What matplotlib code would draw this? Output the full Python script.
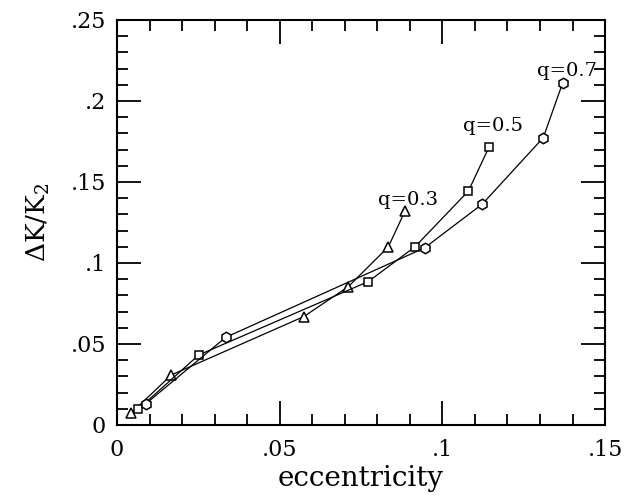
import matplotlib
matplotlib.use("Agg")
import matplotlib.pyplot as plt
from matplotlib.ticker import MultipleLocator, FixedLocator

# Data
e_q03 = [0.0044, 0.0167, 0.0574, 0.0711, 0.0834, 0.0885]
dk_q03 = [0.0074, 0.0309, 0.0669, 0.0854, 0.1100, 0.1320]

e_q05 = [0.0065, 0.0251, 0.0772, 0.0916, 0.1080, 0.1143]
dk_q05 = [0.0097, 0.0432, 0.0885, 0.1100, 0.1444, 0.1714]

e_q07 = [0.0088, 0.0334, 0.0946, 0.1123, 0.1310, 0.1370]
dk_q07 = [0.0130, 0.0541, 0.1094, 0.1364, 0.1773, 0.2113]

series_labels = ["q=0.3", "q=0.5", "q=0.7"]
x_ticks = [0, 0.05, 0.1, 0.15]
x_ticklabels = ["0", ".05", ".1", ".15"]
y_ticks = [0, 0.05, 0.1, 0.15, 0.2, 0.25]
y_ticklabels = ["0", ".05", ".1", ".15", ".2", ".25"]

plt.rcParams['font.family'] = ['DejaVu Serif']
plt.rcParams['mathtext.fontset'] = 'dejavuserif'

fig = plt.figure(figsize=(6.43, 4.98), dpi=100)
ax = fig.add_axes([0.182, 0.1466, 0.759, 0.8134])

mk = dict(color='black', linewidth=0.9, markerfacecolor='white',
          markeredgecolor='black', markeredgewidth=1.1)
ax.plot(e_q03, dk_q03, marker='^', markersize=6.5, **mk)
ax.plot(e_q05, dk_q05, marker='s', markersize=6, **mk)
ax.plot(e_q07, dk_q07, marker='h', markersize=7.5, **mk)

ax.text(e_q03[-1] + 0.0009, dk_q03[-1] + 0.0069, series_labels[0],
        ha='center', va='center', fontsize=14)
ax.text(e_q05[-1] + 0.0013, dk_q05[-1] + 0.0132, series_labels[1],
        ha='center', va='center', fontsize=14)
ax.text(e_q07[-1] + 0.0013, dk_q07[-1] + 0.0072, series_labels[2],
        ha='center', va='center', fontsize=14)

ax.set_xlim(0, 0.15)
ax.set_ylim(0, 0.25)
ax.xaxis.set_major_locator(FixedLocator(x_ticks))
ax.set_xticklabels(x_ticklabels)
ax.yaxis.set_major_locator(FixedLocator(y_ticks))
ax.set_yticklabels(y_ticklabels)
ax.xaxis.set_minor_locator(MultipleLocator(0.01))
ax.yaxis.set_minor_locator(MultipleLocator(0.01))

ax.tick_params(which='both', direction='in', top=True, right=True,
               width=1.3, labelsize=16)
ax.tick_params(which='major', length=17)
ax.tick_params(axis='x', which='major', pad=10)
ax.tick_params(axis='y', which='major', pad=8)
ax.tick_params(which='minor', length=8)
for s in ax.spines.values():
    s.set_linewidth(1.5)

ax.set_xlabel('eccentricity', fontsize=20, labelpad=3)
ax.set_ylabel(r'$\Delta$K/K$_2$', fontsize=19, labelpad=13)

fig.savefig('out.png', dpi=100)
